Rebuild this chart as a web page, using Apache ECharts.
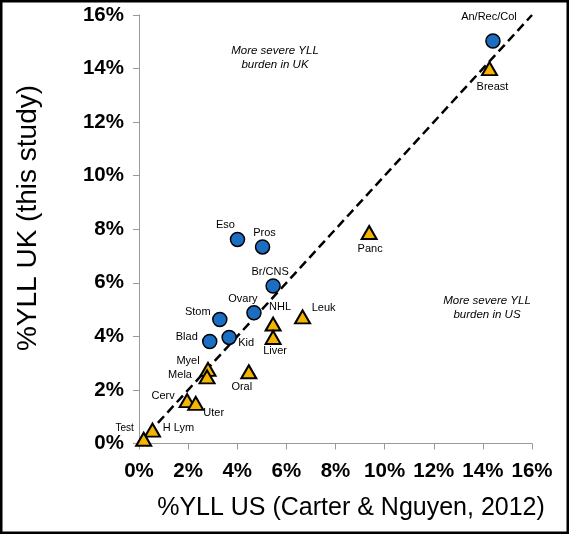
<!DOCTYPE html>
<html>
<head>
<meta charset="utf-8">
<script src="https://cdn.jsdelivr.net/npm/echarts@6/dist/echarts.min.js"></script>
<style>
html,body{margin:0;padding:0;background:#fff;}
#c{width:569px;height:534px;}
</style>
</head>
<body>
<div id="c"></div>
<script>
// ---- data ----
const circleNames = ['An/Rec/Col','Eso','Pros','Br/CNS','Ovary','Stom','Kid','Blad'];
const circleUS = [14.41, 4.01, 5.03, 5.46, 4.68, 3.29, 3.67, 2.88];
const circleUK = [15.03, 7.62, 7.34, 5.88, 4.88, 4.63, 3.96, 3.81];
const triNames = ['Breast','Panc','Leuk','NHL','Liver','Oral','Myel','Mela','Cerv','Uter','H Lym','Test'];
const triUS = [14.27, 9.37, 6.66, 5.46, 5.46, 4.47, 2.81, 2.77, 1.96, 2.31, 0.55, 0.19];
const triUK = [14.00, 7.88, 4.73, 4.46, 3.96, 2.68, 2.77, 2.49, 1.60, 1.50, 0.50, 0.16];
const parityLine = [[0, 0], [16, 16]];
const axisMin = 0, axisMax = 16, axisStep = 2;
const xTitle = '%YLL US (Carter & Nguyen, 2012)';
const yTitle = '%YLL UK (this study)';
const noteUK = 'More severe YLL\nburden in UK';
const noteUS = 'More severe YLL\nburden in US';

// ---- label placement (style) ----
const labelOffsets = {
  'An/Rec/Col': [-4, -24], 'Eso': [-12, -14], 'Pros': [2, -14], 'Br/CNS': [-3, -14],
  'Ovary': [-11, -14], 'Stom': [-22, -8], 'Kid': [17, 6], 'Blad': [-23, -4],
  'Breast': [3, 18], 'Panc': [1, 17], 'Leuk': [21, -9], 'NHL': [7, -17],
  'Liver': [2, 14], 'Oral': [-7, 15], 'Myel': [-20, -8], 'Mela': [-27, -2],
  'Cerv': [-24, -5], 'Uter': [18, 10], 'H Lym': [26, -2], 'Test': [-19, -11]
};

function build(names, xs, ys) {
  return names.map((n, i) => ({
    name: n,
    value: [xs[i], ys[i]],
    label: {
      show: true, position: 'inside', offset: labelOffsets[n],
      formatter: n, color: '#000',
      fontSize: n === 'Test' ? 10 : 11,
      fontFamily: 'Liberation Sans, Arial, sans-serif'
    }
  }));
}

const chart = echarts.init(document.getElementById('c'), null, {renderer: 'canvas'});
const axisCommon = {
  type: 'value', min: axisMin, max: axisMax, interval: axisStep,
  axisLine: {show: true, onZero: false, lineStyle: {color: '#999', width: 1}},
  axisTick: {show: true, length: 6, lineStyle: {color: '#999'}},
  splitLine: {show: false},
  axisLabel: {
    formatter: '{value}%', color: '#000', fontWeight: 'bold', fontSize: 20.5,
    fontFamily: 'Liberation Sans, Arial, sans-serif'
  }
};
chart.setOption({
  animation: false,
  backgroundColor: '#fff',
  grid: {left: 139, right: 37, top: 15, bottom: 90.5, containLabel: false},
  xAxis: Object.assign({}, axisCommon, {axisLabel: Object.assign({}, axisCommon.axisLabel, {margin: 17})}),
  yAxis: Object.assign({}, axisCommon, {axisLabel: Object.assign({}, axisCommon.axisLabel, {margin: 15})}),
  series: [
    {
      type: 'line', data: parityLine, symbol: 'none', z: 1,
      lineStyle: {color: '#000', width: 2.5, type: [9, 5]}, silent: true
    },
    {
      type: 'scatter', data: build(circleNames, circleUS, circleUK), symbol: 'circle', symbolSize: 14, z: 3,
      itemStyle: {color: '#1b6ec2', borderColor: '#000', borderWidth: 1.5, opacity: 1}
    },
    {
      type: 'scatter', data: build(triNames, triUS, triUK), symbol: 'triangle', symbolSize: [15, 13], z: 3,
      itemStyle: {color: '#f4b400', borderColor: '#000', borderWidth: 2, opacity: 1}
    }
  ],
  graphic: [
    {type: 'text', style: {text: xTitle, x: 351, y: 508, align: 'center', verticalAlign: 'middle',
      fontSize: 25, fontFamily: 'Liberation Sans, Arial, sans-serif', fill: '#000'}},
    {type: 'text', rotation: Math.PI / 2, x: 28, y: 218, style: {text: yTitle, x: 0, y: 0, align: 'center', verticalAlign: 'middle',
      fontSize: 28, fontFamily: 'Liberation Sans, Arial, sans-serif', fill: '#000'}},
    {type: 'text', style: {text: noteUK, x: 275, y: 58, align: 'center', verticalAlign: 'middle', lineHeight: 14.5,
      fontSize: 11.5, fontStyle: 'italic', fontFamily: 'Liberation Sans, Arial, sans-serif', fill: '#000'}},
    {type: 'text', style: {text: noteUS, x: 487, y: 308, align: 'center', verticalAlign: 'middle', lineHeight: 14.5,
      fontSize: 11.5, fontStyle: 'italic', fontFamily: 'Liberation Sans, Arial, sans-serif', fill: '#000'}},
    {type: 'rect', shape: {x: 1.25, y: 1.25, width: 566.5, height: 531.5}, style: {fill: null, stroke: '#000', lineWidth: 2.5}, z: 100}
  ]
});
</script>
</body>
</html>
